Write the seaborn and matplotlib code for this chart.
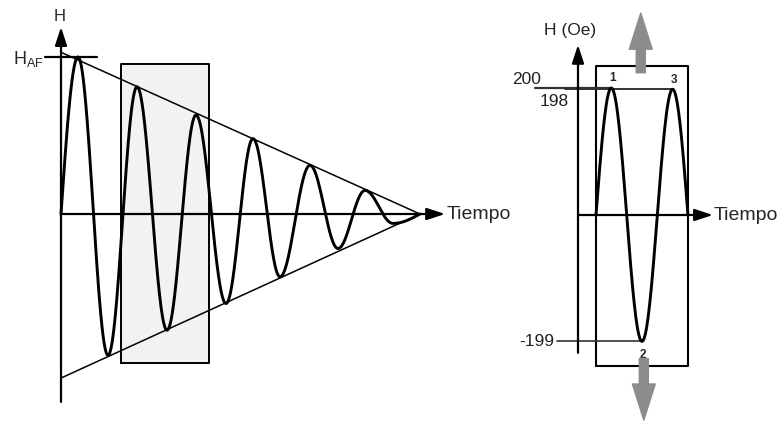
import numpy as np
import pandas as pd
import matplotlib
matplotlib.use("Agg")
import matplotlib.pyplot as plt
import seaborn as sns

# Decaying AF field: time (periods) and H/H_AF at each zero/extreme
decay_t = [0.0, 0.288, 0.797, 1.288, 1.797, 2.288, 2.797, 3.254, 3.712, 4.220, 4.695, 5.153, 5.627, 6.085]
decay_h = [0.0, 1.00, -0.90, 0.81, -0.74, 0.63, -0.57, 0.48, -0.40, 0.31, -0.22, 0.15, -0.06, 0.0]
envelope_t = [0.0, 6.085]
envelope_upper = [1.03, 0.0]
envelope_lower = [-1.045, 0.0]

# Zoomed cycle: field in Oe at the three numbered extremes
cycle_t = [0.0, 0.25, 0.75, 1.25, 1.5]
cycle_h = [0, 200, -199, 198, 0]
peak_labels = ["1", "2", "3"]


def smooth_wave(ts, hs, n=60):
    """Join successive extremes with cosine arcs (quarter arcs at both ends)."""
    xs, ys = [], []
    last = len(ts) - 2
    for i in range(len(ts) - 1):
        s = np.linspace(0, 1, n)
        if i == 0:
            seg = hs[1] * np.sin(np.pi / 2 * s)
        elif i == last:
            seg = hs[i] * np.cos(np.pi / 2 * s)
        else:
            seg = hs[i] + (hs[i + 1] - hs[i]) * (1 - np.cos(np.pi * s)) / 2
        xs.append(ts[i] + (ts[i + 1] - ts[i]) * s)
        ys.append(seg)
    return pd.DataFrame({"t": np.concatenate(xs), "h": np.concatenate(ys)})


sns.set_theme(style="white")
plt.rcParams["font.family"] = ["Liberation Sans", "DejaVu Sans"]
plt.rcParams["mathtext.fontset"] = "custom"
plt.rcParams["mathtext.rm"] = "Liberation Sans"

fig = plt.figure(figsize=(7.83, 4.23), dpi=100)
fig.patch.set_facecolor("white")
axL = fig.add_axes([0, 0, 500 / 783, 1])
axR = fig.add_axes([500 / 783, 0, 283 / 783, 1])
for ax in (axL, axR):
    ax.set_axis_off()
    ax.patch.set_alpha(0)

axis_arrow = dict(arrowstyle="-|>,head_length=1.1,head_width=0.36", color="black",
                  lw=1.6, shrinkA=0, shrinkB=0, mutation_scale=10)

# ---------------- left panel: decaying alternating field ----------------
axL.set_xlim(-61 / 59, 439 / 59)
axL.set_ylim((214 - 423) / 157, 214 / 157)

axL.fill_between([1.017, 2.508], -0.949, 0.955, color="#f2f2f2", zorder=1)
axL.plot([1.017, 2.508, 2.508, 1.017, 1.017], [-0.949, -0.949, 0.955, 0.955, -0.949],
         color="black", lw=1.4, zorder=2)

env = pd.DataFrame({"t": envelope_t + envelope_t,
                    "h": envelope_upper + envelope_lower,
                    "side": ["up", "up", "down", "down"]})
sns.lineplot(data=env, x="t", y="h", units="side", estimator=None, color="black",
             lw=1.1, ax=axL, zorder=3)

wave = smooth_wave(decay_t, decay_h)
sns.lineplot(data=wave, x="t", y="h", sort=False, estimator=None, color="black",
             lw=2.1, ax=axL, zorder=4)

axL.annotate("", xy=(0, 1.191), xytext=(0, -1.197), arrowprops=axis_arrow, zorder=5)
axL.annotate("", xy=(6.51, 0), xytext=(0, 0), arrowprops=axis_arrow, zorder=5)
axL.plot([-0.27, 0.61], [decay_h[1], decay_h[1]], color="black", lw=1.6, zorder=5)
axL.text(-0.02, 1.255, "H", fontsize=12, ha="center", va="center")
axL.text(-0.29, 0.99, r"$\mathregular{H_{AF}}$", fontsize=13, ha="right", va="center")
axL.text(6.54, 0.0, "Tiempo", fontsize=14, ha="left", va="center")

# ---------------- right panel: one and a half cycles ----------------
sx, sy = 61.3, 0.635
axR.set_xlim(-96 / sx, 187 / sx)
axR.set_ylim((215 - 423) / sy, 215 / sy)

box = [0.0, 1.5, -238, 235]
axR.plot([box[0], box[1], box[1], box[0], box[0]], [box[2], box[2], box[3], box[3], box[2]],
         color="black", lw=1.5, zorder=2)

cyc = smooth_wave(cycle_t, cycle_h)
sns.lineplot(data=cyc, x="t", y="h", sort=False, estimator=None, color="black",
             lw=2.1, ax=axR, zorder=4)

axR.annotate("", xy=(-18 / sx, 268), xytext=(-18 / sx, -217), arrowprops=axis_arrow, zorder=5)
axR.annotate("", xy=(117 / sx, 0), xytext=(-18 / sx, 0), arrowprops=axis_arrow, zorder=5)

# reference levels of the three extremes
axR.plot([-1.0, cycle_t[1]], [cycle_h[1], cycle_h[1]], color="#333333", lw=1.6, zorder=3)
axR.plot([-0.5, cycle_t[3]], [cycle_h[3], cycle_h[3]], color="#333333", lw=1.4, zorder=3)
axR.plot([-0.64, cycle_t[2]], [cycle_h[2], cycle_h[2]], color="#333333", lw=1.2, zorder=3)
axR.text(-1.13, 214, str(cycle_h[1]), fontsize=12.5, ha="center", va="center", color="#222222")
axR.text(-0.69, 179, str(cycle_h[3]), fontsize=12.5, ha="center", va="center", color="#222222")
axR.text(-0.68, cycle_h[2], str(cycle_h[2]), fontsize=12.5, ha="right", va="center", color="#222222")

for lab, t, h, dy in zip(peak_labels, [cycle_t[1], cycle_t[2], cycle_t[3]],
                         [cycle_h[1], cycle_h[2], cycle_h[3]], [16, -22, 15]):
    axR.text(t + 0.02, h + dy, lab, fontsize=8.5, fontweight="bold", ha="center", va="center")

axR.text(-0.42, 291, "H (Oe)", fontsize=12.5, ha="center", va="center", color="#222222")
axR.text(118 / sx, 0, "Tiempo", fontsize=14, ha="left", va="center")

gray_arrow = dict(arrowstyle="simple,head_length=2.6,head_width=1.65,tail_width=0.65",
                  color="#8c8c8c", shrinkA=0, shrinkB=0, mutation_scale=10)
axR.annotate("", xy=(0.73, 318), xytext=(0.73, 224), arrowprops=gray_arrow, zorder=6)
axR.annotate("", xy=(0.78, -323), xytext=(0.78, -226), arrowprops=gray_arrow, zorder=6)

fig.savefig("out.png", dpi=100, facecolor="white")
